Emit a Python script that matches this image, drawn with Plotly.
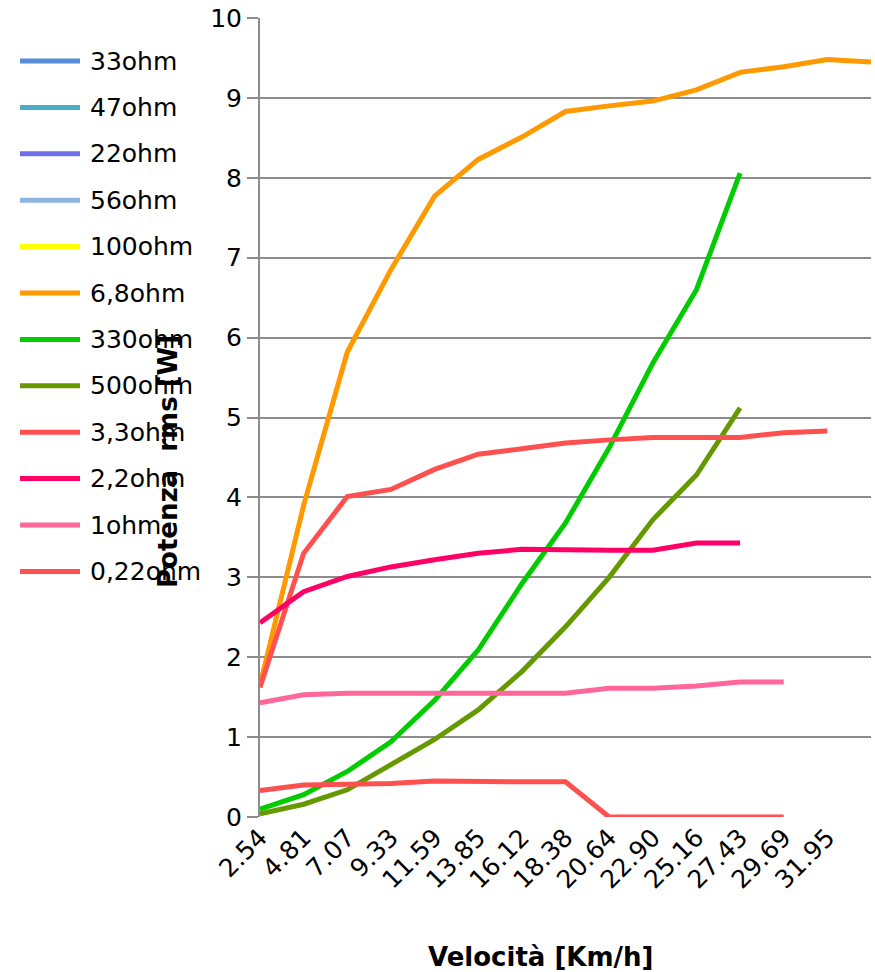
import plotly.graph_objects as go

# Speed categories (km/h); the last category carries data but no tick label
speeds = ["2.54", "4.81", "7.07", "9.33", "11.59", "13.85", "16.12", "18.38",
          "20.64", "22.90", "25.16", "27.43", "29.69", "31.95", "34.21"]
labeled_speeds = speeds[:14]

# RMS power [W] for each load resistor
r33 = []
r47 = []
r22 = []
r56 = []
r100 = []
r6_8 = [1.65, 3.90, 5.82, 6.85, 7.77, 8.23, 8.51, 8.83, 8.90, 8.96, 9.10, 9.32, 9.39, 9.48, 9.45]
r330 = [0.10, 0.28, 0.57, 0.94, 1.46, 2.09, 2.92, 3.68, 4.62, 5.68, 6.60, 8.06]
r500 = [0.04, 0.16, 0.34, 0.65, 0.97, 1.34, 1.82, 2.38, 3.00, 3.72, 4.28, 5.12]
r3_3 = [1.62, 3.30, 4.01, 4.10, 4.35, 4.54, 4.61, 4.68, 4.72, 4.75, 4.75, 4.75, 4.81, 4.83]
r2_2 = [2.43, 2.82, 3.01, 3.13, 3.22, 3.30, 3.35, 3.34, 3.34, 3.34, 3.43, 3.43]
r1 = [1.43, 1.53, 1.55, 1.55, 1.55, 1.55, 1.55, 1.55, 1.61, 1.61, 1.64, 1.69, 1.69]
r0_22 = [0.33, 0.40, 0.41, 0.42, 0.45, 0.44, 0.44, 0.44, 0.0, 0.0, 0.0, 0.0, 0.0]

series_names = ["33ohm", "47ohm", "22ohm", "56ohm", "100ohm", "6,8ohm", "330ohm",
                "500ohm", "3,3ohm", "2,2ohm", "1ohm", "0,22ohm"]
series_values = [r33, r47, r22, r56, r100, r6_8, r330, r500, r3_3, r2_2, r1, r0_22]
series_colors = ["#558ED5", "#4BACC6", "#6F6FEC", "#8EB4E3", "#FFFF00", "#FF9900",
                 "#00CC00", "#669900", "#FF5050", "#FF0066", "#FF6699", "#FF5050"]

FONT = "DejaVu Sans"
GRID = "#8c8c8c"

W, H = 875, 972
L, R, T, B = 260, 4, 18, 155
pw = W - L - R
ph = H - T - B


def px_x(x):
    return (x - L) / pw


def px_y(y):
    return (H - B - y) / ph


fig = go.Figure()
for name, vals, color in zip(series_names, series_values, series_colors):
    fig.add_trace(go.Scatter(
        x=speeds[:len(vals)], y=vals, name=name, mode="lines",
        line=dict(color=color, width=5), showlegend=False,
    ))

# Legend drawn as line samples with labels on the left side
shapes = []
annotations = []
for k, (name, color) in enumerate(zip(series_names, series_colors)):
    yy = px_y(61 + k * 46.4)
    shapes.append(dict(type="line", xref="paper", yref="paper",
                       x0=px_x(20), x1=px_x(80), y0=yy, y1=yy,
                       line=dict(color=color, width=5)))
    annotations.append(dict(text=name, xref="paper", yref="paper",
                            x=px_x(88), y=yy, xanchor="left", yanchor="middle",
                            showarrow=False, font=dict(family=FONT, size=25, color="black")))

annotations.append(dict(text="<b>Potenza  rms [W]</b>", xref="paper", yref="paper",
                        x=px_x(168), y=px_y(462), textangle=-90,
                        xanchor="center", yanchor="middle", showarrow=False,
                        font=dict(family=FONT, size=26, color="black")))
annotations.append(dict(text="<b>Velocità [Km/h]</b>", xref="paper", yref="paper",
                        x=px_x(540), y=px_y(957), xanchor="center", yanchor="middle",
                        showarrow=False, font=dict(family=FONT, size=26, color="black")))

fig.update_layout(
    width=W, height=H,
    margin=dict(l=L, r=R, t=T, b=B),
    paper_bgcolor="white", plot_bgcolor="white",
    font=dict(family=FONT, size=25, color="black"),
    shapes=shapes, annotations=annotations,
    showlegend=False,
)
fig.update_xaxes(
    type="category", categoryorder="array", categoryarray=speeds,
    range=[0, len(speeds) - 1],
    tickmode="array", tickvals=labeled_speeds, ticktext=labeled_speeds,
    tickangle=-45, showgrid=False, showline=False, zeroline=False, ticks="",
    tickfont=dict(family=FONT, size=25, color="black"),
)
fig.update_yaxes(
    range=[0, 10], dtick=1, tick0=0,
    showgrid=True, gridcolor=GRID, gridwidth=2,
    showline=True, linecolor=GRID, linewidth=2,
    ticks="outside", ticklen=11, tickcolor=GRID, tickwidth=2,
    zeroline=False,
    tickfont=dict(family=FONT, size=25, color="black"),
)

fig.write_html("out.html")
